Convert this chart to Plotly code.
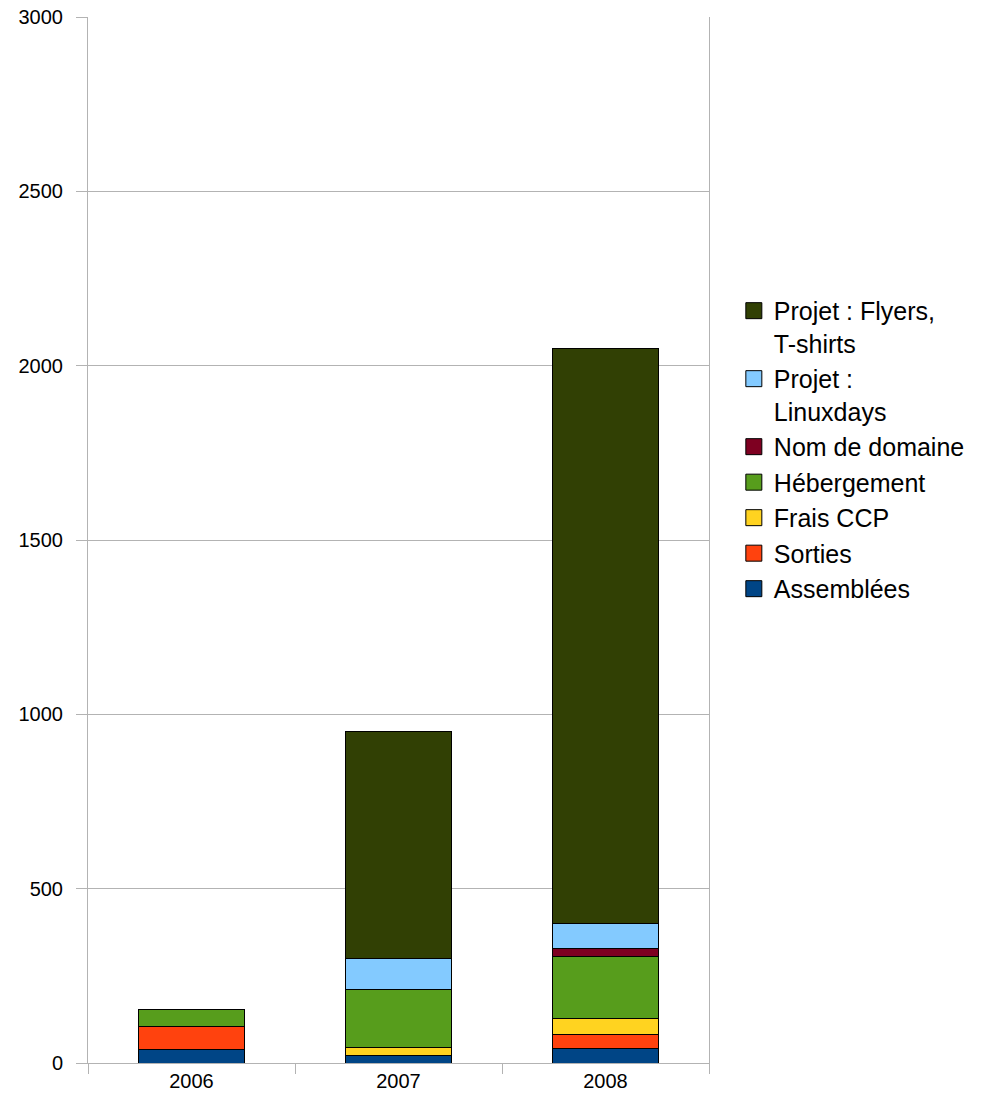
import plotly.graph_objects as go

years = ["2006", "2007", "2008"]
series_names = ["Assemblées", "Sorties", "Frais CCP", "Hébergement", "Nom de domaine",
                "Projet :<br>Linuxdays", "Projet : Flyers,<br>T-shirts"]
assemblees = [38, 21, 42]
sorties = [68, 0, 39]
frais_ccp = [0, 23, 46]
hebergement = [47, 168, 179]
nom_domaine = [0, 0, 23]
linuxdays = [0, 89, 72]
flyers = [0, 651, 1647]
colors = ["#004586", "#ff420e", "#ffd320", "#579d1c", "#7e0021", "#83caff", "#314004"]

values = [assemblees, sorties, frais_ccp, hebergement, nom_domaine, linuxdays, flyers]

fig = go.Figure()
for name, vals, col in zip(series_names, values, colors):
    fig.add_trace(go.Bar(x=years, y=vals, name=name, showlegend=False, legendgroup=name,
                         marker=dict(color=col, line=dict(color="#000000", width=1))))
# legend entries with larger square swatches
for name, col in zip(series_names, colors):
    fig.add_trace(go.Scatter(x=[None], y=[None], mode="markers", name=name, legendgroup=name,
                             marker=dict(symbol="square", size=17, color=col,
                                         line=dict(color="#000000", width=1))))

fig.update_layout(
    barmode="stack",
    bargap=0.49,
    width=991, height=1107,
    margin=dict(l=88, r=282, t=17, b=44),
    paper_bgcolor="white", plot_bgcolor="white",
    font=dict(family="Liberation Sans, Arial, sans-serif", size=20, color="#000000"),
    legend=dict(traceorder="reversed", x=1.040, xanchor="left", y=0.741, yanchor="top",
                font=dict(size=25), tracegroupgap=0, itemwidth=30, valign="top",
                bgcolor="rgba(0,0,0,0)"),
    showlegend=True,
)
fig.update_xaxes(showline=True, linecolor="#b3b3b3", linewidth=1, mirror=False,
                 ticks="outside", ticklen=10, tickcolor="#b3b3b3", tickson="boundaries",
                 showgrid=False, automargin=False, range=[-0.5, 2.5])
fig.update_yaxes(range=[0, 3000], dtick=500, showgrid=True, gridcolor="#b3b3b3",
                 gridwidth=1, showline=True, linecolor="#b3b3b3", mirror=True,
                 ticks="outside", ticklen=11, tickcolor="#b3b3b3", zeroline=False,
                 automargin=False, ticklabelstandoff=9)
fig.write_html("out.html", config={"displayModeBar": False},
               post_script="document.body.style.margin='0';")
